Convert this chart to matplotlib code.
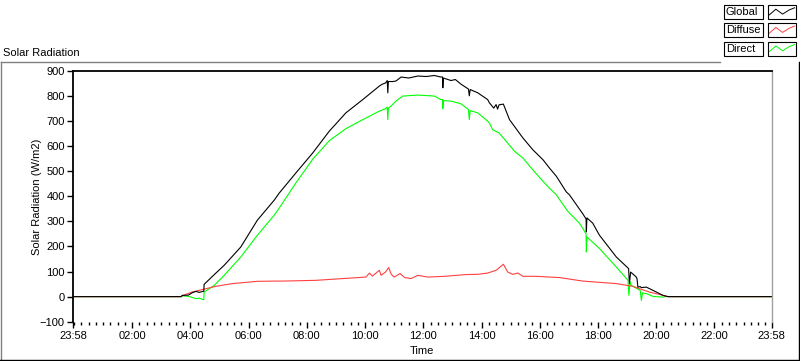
import matplotlib
matplotlib.use('Agg')
import matplotlib.pyplot as plt
from matplotlib.lines import Line2D
from matplotlib.patches import Rectangle
from matplotlib.ticker import MultipleLocator

plt.rcParams['font.family'] = ['Liberation Sans', 'DejaVu Sans']

# time in hours since midnight (-0.033 = 23:58 of the previous day)
global_t = [-0.033, 3.68, 3.72, 3.93, 4.07, 4.19, 4.30, 4.44, 4.46, 4.47, 4.82, 5.16,
            5.73, 6.30, 6.88, 7.05, 7.62, 8.20, 8.77, 9.34, 9.92, 10.49, 10.60,
            10.70, 10.76, 10.78, 10.80, 10.95, 11.06, 11.24, 11.50, 11.81, 12.10, 12.38,
            12.60, 12.66, 12.67, 12.69, 12.95, 13.10, 13.30, 13.55, 13.58, 13.61, 13.87,
            14.21, 14.27, 14.42, 14.50, 14.55, 14.60, 14.75, 14.96, 15.42, 15.76, 16.11,
            16.34, 16.57, 16.91, 17.02, 17.48, 17.59, 17.60, 17.62, 17.82, 18.05, 18.63,
            19.05, 19.08, 19.12, 19.30, 19.34, 19.37, 19.45, 19.49, 19.66, 19.89, 20.23,
            20.40, 23.967]
global_v = [0, 0, 5, 6, 16, 21, 17, 21, 22, 49, 88, 125,
            198, 305, 385, 413, 493, 573, 660, 733, 786, 840, 848,
            852, 862, 813, 858, 858, 860, 876, 872, 880, 878, 882,
            876, 876, 833, 872, 862, 866, 847, 828, 801, 826, 813,
            786, 773, 752, 766, 748, 765, 768, 706, 633, 586, 546,
            512, 480, 418, 406, 330, 310, 258, 314, 293, 245, 158,
            112, 52, 98, 80, 72, 38, 40, 36, 38, 25, 5,
            0, 0]

diffuse_t = [-0.033, 3.68, 3.75, 4.05, 4.40, 4.87, 5.44, 5.73, 6.30, 6.88, 7.16, 8.31,
             9.23, 10.03, 10.15, 10.25, 10.49, 10.55, 10.70, 10.81, 10.90, 11.00, 11.20,
             11.36, 11.58, 11.81, 12.15, 12.73, 13.47, 13.87, 14.21, 14.50, 14.75, 14.90,
             15.07, 15.25, 15.42, 15.88, 16.68, 17.48, 18.63, 19.20, 19.77, 20.25, 20.40,
             23.967]
diffuse_v = [0, 0, 5, 18, 28, 41, 52, 55, 61, 62, 62, 65,
             72, 78, 94, 82, 105, 85, 98, 116, 89, 78, 92,
             76, 72, 85, 78, 81, 88, 89, 94, 105, 129, 98,
             89, 94, 81, 81, 76, 62, 52, 41, 18, 5, 0,
             0]

direct_t = [-0.033, 3.68, 3.72, 3.93, 4.05, 4.19, 4.30, 4.44, 4.46, 4.47, 4.82, 5.16,
            5.73, 6.30, 6.88, 7.05, 7.62, 8.20, 8.77, 9.34, 9.92, 10.49, 10.70, 10.76,
            10.78, 10.80, 10.89, 11.06, 11.29, 11.81, 12.38, 12.60, 12.66, 12.67, 12.69,
            12.95, 13.30, 13.55, 13.58, 13.61, 13.87, 14.21, 14.27, 14.38, 14.60, 14.80,
            15.13, 15.42, 15.76, 16.11, 16.34, 16.57, 16.95, 17.36, 17.48, 17.59, 17.60,
            17.62, 18.05, 18.63, 19.03, 19.06, 19.10, 19.14, 19.34, 19.45, 19.49, 19.53,
            19.66, 19.89, 20.23, 20.35, 20.40, 23.967]
direct_v = [0, 0, 3, 1, -3, -8, -6, -12, -12, 18, 45, 85,
            158, 245, 325, 353, 453, 548, 622, 670, 706, 740, 750, 756,
            706, 752, 760, 780, 800, 804, 800, 786, 786, 750, 782,
            780, 769, 746, 706, 742, 733, 700, 693, 666, 653, 626,
            580, 553, 506, 460, 432, 406, 342, 293, 272, 250, 178,
            238, 192, 118, 65, 5, 60, 45, 32, 25, -15, 15,
            12, 1, -2, 1, 0, 0]

series_names = ['Global', 'Diffuse', 'Direct']
series_colors = ['black', '#ff4040', '#00ff00']

xtick_pos = [-2 / 60, 2, 4, 6, 8, 10, 12, 14, 16, 18, 20, 22, 24 - 2 / 60]
xtick_labels = ['23:58', '02:00', '04:00', '06:00', '08:00', '10:00', '12:00',
                '14:00', '16:00', '18:00', '20:00', '22:00', '23:58']

W, H = 800, 361
fig = plt.figure(figsize=(8, 3.61), dpi=100)


def fx(px):
    return px / W


def fy(py):
    return 1 - py / H


ax = fig.add_axes([fx(73), fy(321.7), fx(771.7) - fx(73), fy(71) - fy(321.7)])

ax.plot(direct_t, direct_v, color=series_colors[2], lw=0.8)
ax.plot(diffuse_t, diffuse_v, color=series_colors[1], lw=0.8)
ax.plot(global_t, global_v, color=series_colors[0], lw=0.8)

ax.set_xlim(-2 / 60, 24 - 2 / 60)
ax.set_ylim(-100, 900)
ax.set_yticks(range(-100, 901, 100))
ax.set_xticks(xtick_pos)
ax.set_xticklabels(xtick_labels)
ax.xaxis.set_minor_locator(MultipleLocator(0.25))

ax.tick_params(axis='y', direction='out', length=4, width=1, pad=2, labelsize=8)
ax.tick_params(axis='x', which='major', direction='out', length=4, width=1, pad=3, labelsize=8)
ax.tick_params(axis='x', which='minor', direction='out', length=2.2, width=1)

ax.spines['left'].set_linewidth(1.3)
ax.spines['top'].set_linewidth(1.3)
ax.spines['right'].set_color('#a0a0a0')
ax.spines['right'].set_linewidth(1)
ax.spines['bottom'].set_visible(False)

fig.text(fx(37), fy(196.5), 'Solar Radiation (W/m2)', rotation=90, ha='center', va='center', fontsize=8)
fig.text(fx(422), fy(351), 'Time', ha='center', va='center', fontsize=8)
fig.text(fx(3), fy(52.5), 'Solar Radiation', ha='left', va='center', fontsize=8)

# outer panel frame
fig.add_artist(Line2D([fx(0.5), fx(720)], [fy(62), fy(62)], color='#808080', lw=1))
fig.add_artist(Line2D([fx(0.5), fx(0.5)], [fy(62), fy(359.5)], color='#808080', lw=1))
fig.add_artist(Line2D([fx(0), fx(800)], [fy(359.5), fy(359.5)], color='black', lw=1))
fig.add_artist(Line2D([fx(799.3), fx(799.3)], [fy(62), fy(360)], color='black', lw=1))

# legend
row_tops = [5, 23.3, 41.7]
zig_x = [0.05, 0.28, 0.52, 0.76, 0.95]
zig_y = [0.70, 0.30, 0.65, 0.35, 0.20]
for name, color, top in zip(series_names, series_colors, row_tops):
    fig.add_artist(Rectangle((fx(724), fy(top + 14)), fx(763) - fx(724), fy(top) - fy(top + 14),
                             fill=False, edgecolor='black', lw=0.8))
    fig.text(fx(726), fy(top + 7), name, ha='left', va='center', fontsize=8)
    fig.add_artist(Rectangle((fx(768), fy(top + 14)), fx(796) - fx(768), fy(top) - fy(top + 14),
                             fill=False, edgecolor='black', lw=0.8))
    fig.add_artist(Line2D([fx(768 + 28 * z) for z in zig_x],
                          [fy(top + 14 * z) for z in zig_y], color=color, lw=0.7))

fig.savefig('out.png', dpi=100)
